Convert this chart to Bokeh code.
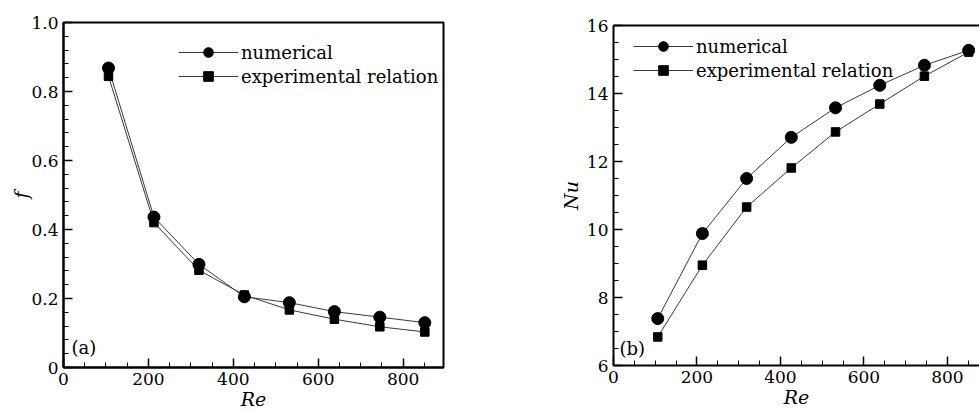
from bokeh.plotting import figure
from bokeh.layouts import row, column
from bokeh.models import FixedTicker, Legend, LegendItem, Label, LinearAxis, Range1d
from bokeh.embed import file_html
from bokeh.resources import INLINE

# ---- data ----
re_values = [106, 213, 319, 426, 532, 638, 745, 851]
f_numerical = [0.868, 0.436, 0.299, 0.205, 0.188, 0.162, 0.146, 0.130]
f_experimental = [0.844, 0.420, 0.282, 0.210, 0.167, 0.140, 0.118, 0.103]
nu_numerical = [7.38, 9.88, 11.50, 12.71, 13.58, 14.24, 14.83, 15.27]
nu_experimental = [6.84, 8.95, 10.66, 11.81, 12.87, 13.69, 14.51, 15.22]
series_names = ["numerical", "experimental relation"]
x_ticks = [0, 200, 400, 600, 800]
f_ticks = [0, 0.2, 0.4, 0.6, 0.8, 1.0]
f_tick_labels = ["0", "0.2", "0.4", "0.6", "0.8", "1.0"]
nu_ticks = [6, 8, 10, 12, 14, 16]
nu_tick_labels = ["6", "8", "10", "12", "14", "16"]
panel_labels = ["(a)", "(b)"]
axis_titles = {"x": "Re", "ya": "f", "yb": "Nu"}

FONT = "DejaVu Serif"
LINE_COLOR = "#3a3a3a"

x_minor = [v for v in range(50, 900, 50) if v % 200 != 0]
f_minor = [round(i * 0.04, 2) for i in range(1, 25) if i % 5 != 0]
nu_minor = [6 + i * 0.5 for i in range(1, 20) if i % 4 != 0]


def style_axis(ax, label_standoff):
    ax.major_tick_in = 9
    ax.major_tick_out = 0
    ax.minor_tick_in = 5
    ax.minor_tick_out = 0
    ax.axis_line_width = 2
    ax.axis_line_color = "black"
    ax.major_tick_line_width = 1.5
    ax.minor_tick_line_width = 1
    ax.major_label_text_font = FONT
    ax.major_label_text_font_size = "17px"
    ax.major_label_text_color = "black"
    ax.axis_label_text_font = FONT
    ax.axis_label_text_font_style = "italic"
    ax.axis_label_text_font_size = "19px"
    ax.axis_label_text_color = "black"
    ax.major_label_standoff = 5
    ax.axis_label_standoff = label_standoff


def make_panel(width, x_end, y_range, y_ticks, y_minor, y_labels, y_title, y_standoff,
               ys_num, ys_exp, legend_loc, border, outline, panel_label, label_pos):
    p = figure(width=width, height=412, output_backend="svg", toolbar_location=None,
               x_range=Range1d(0, x_end), y_range=Range1d(*y_range),
               min_border_left=border[0], min_border_right=border[1],
               min_border_top=border[2], min_border_bottom=border[3])
    p.grid.visible = False
    p.background_fill_color = "white"
    p.border_fill_color = "white"

    xa = p.below[0]
    ya = p.left[0]
    xa.ticker = FixedTicker(ticks=x_ticks, minor_ticks=x_minor)
    ya.ticker = FixedTicker(ticks=y_ticks, minor_ticks=y_minor)
    ya.major_label_overrides = {t: l for t, l in zip(y_ticks, y_labels)}
    xa.axis_label = axis_titles["x"]
    ya.axis_label = y_title
    style_axis(xa, 0)
    style_axis(ya, y_standoff)

    if outline:
        p.outline_line_color = "black"
        p.outline_line_width = 2
    else:
        p.outline_line_color = None
        top = LinearAxis(ticker=FixedTicker(ticks=[]), major_label_text_font_size="0px",
                         axis_line_width=2, axis_line_color="black",
                         major_tick_in=0, major_tick_out=0, minor_tick_in=0, minor_tick_out=0,
                         major_label_standoff=0)
        p.add_layout(top, "above")

    l1 = p.line(re_values, ys_num, line_color=LINE_COLOR, line_width=1)
    l2 = p.line(re_values, ys_exp, line_color=LINE_COLOR, line_width=1)
    s2 = p.scatter(re_values, ys_exp, marker="square", size=8.5, color="black")
    s1 = p.scatter(re_values, ys_num, marker="circle", size=12, color="black")

    legend = Legend(items=[LegendItem(label=series_names[0], renderers=[l1, s1]),
                           LegendItem(label=series_names[1], renderers=[l2, s2])],
                    location=legend_loc, glyph_width=60, glyph_height=24, label_height=24,
                    label_standoff=3, padding=0, margin=0, spacing=0,
                    background_fill_alpha=0, border_line_color=None,
                    label_text_font=FONT, label_text_font_size="18px", label_text_color="black")
    p.add_layout(legend)

    p.add_layout(Label(x=label_pos[0], y=label_pos[1], x_units="screen", y_units="screen",
                       text=panel_label, text_baseline="middle", text_font=FONT,
                       text_font_size="18px", text_color="black"))
    return p


pa = make_panel(520, 895, (0, 1.0), f_ticks, f_minor, f_tick_labels, axis_titles["ya"], -4,
                f_numerical, f_experimental, (115, 279), (63, 77, 22, 44), True,
                panel_labels[0], (8, 20))
pb = make_panel(459, 877, (6, 16), nu_ticks, nu_minor, nu_tick_labels, axis_titles["yb"], 2,
                nu_numerical, nu_experimental, (20, 283), (93, 0, 25, 47), False,
                panel_labels[1], (6, 17))

layout = row(column(pa), column(pb))
open("out.html", "w").write(file_html(layout, INLINE))
